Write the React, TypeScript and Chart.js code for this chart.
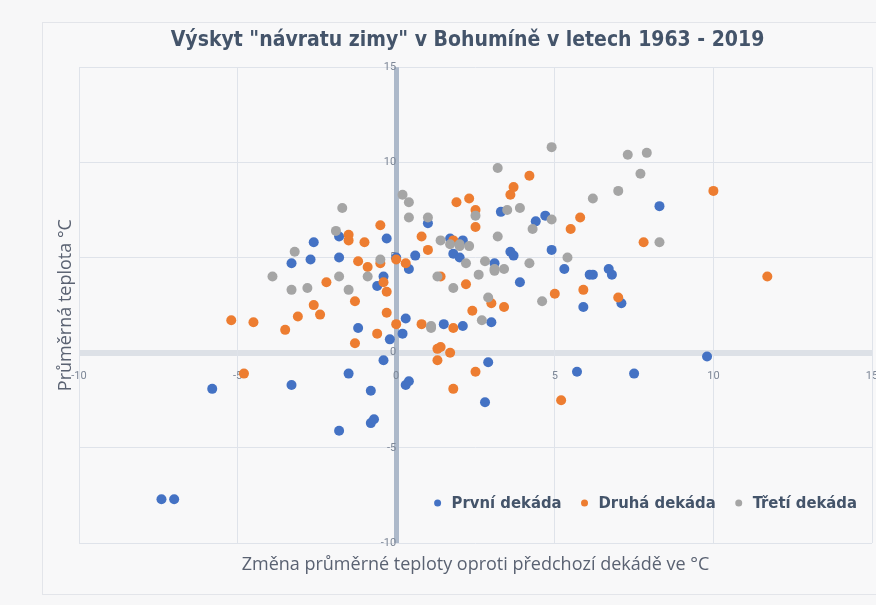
import React, { useEffect, useRef } from 'react';
import { Chart, registerables } from 'chart.js';

Chart.register(...registerables);

const chartTitle = 'Výskyt "návratu zimy" v Bohumíně v letech 1963 - 2019';
const xAxisTitle = 'Změna průměrné teploty oproti předchozí dekádě ve °C';
const yAxisTitle = 'Průměrná teplota °C';
const seriesNames = ['První dekáda', 'Druhá dekáda', 'Třetí dekáda'];
const seriesColors = ['#4472c4', '#ed7d31', '#a5a5a5'];
const axisMin = -10;
const axisMax = 15;
const tickStep = 5;

const firstX = [-7.4, -7.0, -5.8, -3.3, -3.3, -2.7, -2.6, -1.8, -1.8, -1.8, -1.5, -1.2, -0.8, -0.8, -0.7, -0.6, -0.4, -0.4, -0.3, -0.2, 0.0, 0.2, 0.3, 0.3, 0.4, 0.4, 0.6, 1.0, 1.5, 1.7, 1.8, 2.0, 2.1, 2.1, 2.8, 2.9, 3.0, 3.1, 3.3, 3.6, 3.7, 3.9, 4.4, 4.7, 4.9, 5.3, 5.7, 5.9, 6.1, 6.2, 6.7, 6.8, 7.1, 7.5, 8.3, 9.8];
const firstY = [-7.7, -7.7, -1.9, -1.7, 4.7, 4.9, 5.8, 6.1, 5.0, -4.1, -1.1, 1.3, -2.0, -3.7, -3.5, 3.5, 4.0, -0.4, 6.0, 0.7, 5.0, 1.0, 1.8, -1.7, -1.5, 4.4, 5.1, 6.8, 1.5, 6.0, 5.2, 5.0, 5.9, 1.4, -2.6, -0.5, 1.6, 4.7, 7.4, 5.3, 5.1, 3.7, 6.9, 7.2, 5.4, 4.4, -1.0, 2.4, 4.1, 4.1, 4.4, 4.1, 2.6, -1.1, 7.7, -0.2];

const secondX = [-5.2, -4.8, -4.5, -3.5, -3.1, -2.6, -2.4, -2.2, -1.5, -1.5, -1.3, -1.3, -1.2, -1.0, -0.9, -0.6, -0.5, -0.5, -0.4, -0.3, -0.3, 0.0, 0.0, 0.3, 0.8, 0.8, 1.0, 1.3, 1.3, 1.4, 1.4, 1.7, 1.8, 1.8, 1.8, 1.9, 2.2, 2.3, 2.4, 2.5, 2.5, 2.5, 3.0, 3.4, 3.6, 3.7, 4.2, 5.0, 5.2, 5.5, 5.8, 5.9, 7.0, 7.8, 10.0, 11.7];
const secondY = [1.7, -1.1, 1.6, 1.2, 1.9, 2.5, 2.0, 3.7, 6.2, 5.9, 2.7, 0.5, 4.8, 5.8, 4.5, 1.0, 6.7, 4.7, 3.7, 3.2, 2.1, 4.9, 1.5, 4.7, 6.1, 1.5, 5.4, 0.2, -0.4, 0.3, 4.0, 0.0, 1.3, 5.9, -1.9, 7.9, 3.6, 8.1, 2.2, 7.5, 6.6, -1.0, 2.6, 2.4, 8.3, 8.7, 9.3, 3.1, -2.5, 6.5, 7.1, 3.3, 2.9, 5.8, 8.5, 4.0];

const thirdX = [-3.9, -3.3, -3.2, -2.8, -1.9, -1.7, -1.8, -1.5, -0.9, -0.5, 0.2, 0.4, 0.4, 1.0, 1.1, 1.1, 1.3, 1.4, 1.7, 1.8, 2.0, 2.0, 2.2, 2.3, 2.5, 2.6, 2.7, 2.8, 2.9, 3.1, 3.1, 3.2, 3.2, 3.4, 3.5, 3.9, 4.2, 4.3, 4.6, 4.9, 4.9, 5.4, 6.2, 7.0, 7.3, 7.7, 7.9, 8.3];
const thirdY = [4.0, 3.3, 5.3, 3.4, 6.4, 7.6, 4.0, 3.3, 4.0, 4.9, 8.3, 7.9, 7.1, 7.1, 1.4, 1.3, 4.0, 5.9, 5.7, 3.4, 5.7, 5.6, 4.7, 5.6, 7.2, 4.1, 1.7, 4.8, 2.9, 4.4, 4.3, 9.7, 6.1, 4.4, 7.5, 7.6, 4.7, 6.5, 2.7, 7.0, 10.8, 5.0, 8.1, 8.5, 10.4, 9.4, 10.5, 5.8];

const toPoints = (xs: number[], ys: number[]) => xs.map((x, i) => ({ x, y: ys[i] }));

const TEXT_DARK = '#44546a';
const AXIS_TEXT = '#5a6272';
const TICK_TEXT = '#7d8797';
const GRID = '#dfe3ea';

const innerLegend = {
  id: 'innerLegend',
  afterDraw(chart: any) {
    const { ctx, chartArea } = chart;
    ctx.save();
    ctx.font = 'bold 16.5px "DejaVu Sans Condensed", "DejaVu Sans", sans-serif';
    ctx.textBaseline = 'middle';
    const items = chart.data.datasets.map((ds: any) => ({
      label: ds.label as string,
      color: ds.backgroundColor as string,
      w: ctx.measureText(ds.label).width,
    }));
    const dotGap = 14;
    const itemGap = 23;
    const total = items.reduce((s: number, it: any) => s + dotGap + it.w, 0) + itemGap * (items.length - 1);
    let x = chartArea.right - 15 - total;
    const y = chartArea.bottom - 40;
    items.forEach((it: any) => {
      ctx.fillStyle = it.color;
      ctx.beginPath();
      ctx.arc(x, y, 3.5, 0, Math.PI * 2);
      ctx.fill();
      ctx.fillStyle = TEXT_DARK;
      ctx.textAlign = 'left';
      ctx.fillText(it.label, x + dotGap, y + 1);
      x += dotGap + it.w + itemGap;
    });
    ctx.restore();
  },
};

export default function App() {
  const ref = useRef<HTMLCanvasElement | null>(null);

  useEffect(() => {
    if (!ref.current) return;
    Chart.defaults.font.family = '"Open Sans", "DejaVu Sans", sans-serif';
    const datasets = [
      { label: seriesNames[0], data: toPoints(firstX, firstY), backgroundColor: seriesColors[0], borderColor: seriesColors[0], order: 3 },
      { label: seriesNames[1], data: toPoints(secondX, secondY), backgroundColor: seriesColors[1], borderColor: seriesColors[1], order: 2 },
      { label: seriesNames[2], data: toPoints(thirdX, thirdY), backgroundColor: seriesColors[2], borderColor: seriesColors[2], order: 1 },
    ].map((d) => ({ ...d, pointRadius: 5, pointHoverRadius: 5, borderWidth: 0 }));

    const tickFont = { size: 11, family: 'Roboto, "DejaVu Sans", sans-serif' };
    const axisTitleFont = { size: 18, family: '"Open Sans", "DejaVu Sans", sans-serif' };
    const chart = new Chart(ref.current, {
      type: 'scatter',
      data: { datasets },
      options: {
        animation: false,
        responsive: false,
        devicePixelRatio: 1,
        layout: { padding: { left: 42, top: 22, right: 17, bottom: 11 } },
        plugins: {
          legend: { display: false },
          tooltip: { enabled: false },
          title: {
            display: true,
            text: chartTitle,
            color: TEXT_DARK,
            font: { size: 21, weight: 'bold', family: '"DejaVu Sans Condensed", "DejaVu Sans", sans-serif' },
            padding: { top: 6, bottom: 14 },
          },
        },
        scales: {
          y: {
            type: 'linear',
            position: 'left',
            min: axisMin,
            max: axisMax,
            ticks: { display: false, stepSize: tickStep },
            border: { display: false },
            grid: {
              drawTicks: false,
              color: (c: any) => (c.tick && c.tick.value === 0 ? '#dde1e7' : GRID),
              lineWidth: (c: any) => (c.tick && c.tick.value === 0 ? 6 : 1),
            },
            title: {
              display: true,
              text: yAxisTitle,
              color: AXIS_TEXT,
              font: axisTitleFont,
              padding: { top: 13.2, bottom: 2.2 },
            },
          },
          x: {
            type: 'linear',
            position: 'bottom',
            min: axisMin,
            max: axisMax,
            ticks: { display: false, stepSize: tickStep },
            border: { display: false },
            grid: {
              drawTicks: false,
              color: (c: any) => (c.tick && c.tick.value === 0 ? '#adb9ca' : GRID),
              lineWidth: (c: any) => (c.tick && c.tick.value === 0 ? 5 : 1),
            },
            title: {
              display: true,
              text: xAxisTitle,
              color: AXIS_TEXT,
              font: axisTitleFont,
              padding: { top: 11.2, bottom: 18.2 },
            },
          },
          xc: {
            axis: 'x',
            type: 'linear',
            position: { y: 0 },
            min: axisMin,
            max: axisMax,
            grid: { display: false },
            border: { display: false },
            ticks: { stepSize: tickStep, padding: 9, color: TICK_TEXT, font: tickFont, autoSkip: false, maxRotation: 0 },
          },
          yc: {
            axis: 'y',
            type: 'linear',
            position: { x: 0 },
            min: axisMin,
            max: axisMax,
            grid: { display: false },
            border: { display: false },
            ticks: { stepSize: tickStep, padding: 11, color: TICK_TEXT, font: tickFont, autoSkip: false },
          },
          yr: {
            axis: 'y',
            type: 'linear',
            position: 'right',
            min: axisMin,
            max: axisMax,
            grid: { display: false },
            border: { display: false },
            ticks: { display: false },
            afterFit: (s: any) => { s.width = 21; },
          },
        },
      } as any,
      plugins: [innerLegend],
    });
    return () => chart.destroy();
  }, []);

  return (
    <div style={{ position: 'fixed', left: 0, top: 0, width: 876, height: 605, overflow: 'hidden', background: '#f7f7f8' }}>
      <div style={{ position: 'absolute', left: 42, top: 22, width: 900, height: 571, border: '1px solid #e3e5ea', background: '#f8f8f9' }} />
      <canvas ref={ref} width={910} height={605} style={{ position: 'absolute', left: 0, top: 0, width: 910, height: 605 }} />
    </div>
  );
}
